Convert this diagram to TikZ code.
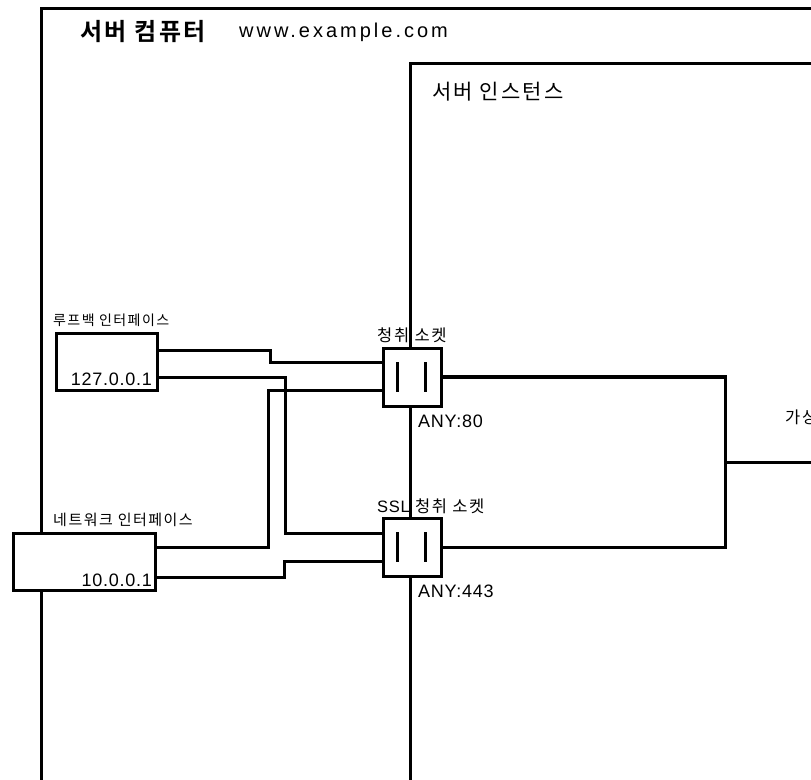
\documentclass[tikz,border=0pt]{standalone}
\usepackage{fontspec}
\setmainfont{Liberation Sans}
\newfontfamily\kr[LetterSpace=10]{Noto Sans CJK KR}
\newfontfamily\krb[LetterSpace=10]{Noto Sans CJK KR Bold}
\newfontfamily\lat[LetterSpace=15]{Liberation Sans}
\newfontfamily\latb[LetterSpace=4]{Liberation Sans}
\begin{document}
\begin{tikzpicture}[x=1pt,y=-1pt,
  wire/.style={line width=3pt, line join=miter},
  frame/.style={line width=3pt},
  ifbox/.style={draw, line width=3pt, fill=white, rectangle, inner sep=0pt},
  sockbox/.style={draw, line width=3pt, fill=white, rectangle, inner sep=0pt, minimum width=58pt, minimum height=58pt},
  lbl/.style={inner sep=0pt, anchor=base west},
]
\useasboundingbox (0,0) rectangle (811,779);
\clip (0,0) rectangle (811,779);
% frames
\draw[frame] (41,785) -- (41,8) -- (820,8);
\draw[frame] (410,785) -- (410,63) -- (820,63);
% boxes
\node[ifbox, minimum width=101pt, minimum height=57pt] (lb) at (106.5,361.5) {};
\node[ifbox, minimum width=142pt, minimum height=57pt] (nb) at (84,561.5) {};
\node[sockbox] (ls) at (412,377) {};
\node[sockbox] (ss) at (412,547) {};
% bars in sockets
\foreach \s in {ls,ss}{
  \draw[line width=3pt] ([xshift=-15pt,yshift=15pt]\s.center) -- ([xshift=-15pt,yshift=-15pt]\s.center);
  \draw[line width=3pt] ([xshift=13pt,yshift=15pt]\s.center) -- ([xshift=13pt,yshift=-15pt]\s.center);
}
% wires
\draw[wire] ([yshift=11.5pt]lb.east) -- (270,350) -- (270,362) -- ([yshift=15pt]ls.west);
\draw[wire] ([yshift=-15.5pt]lb.east) -- (285,377) -- (285,533) -- ([yshift=14pt]ss.west);
\draw[wire] ([yshift=14.5pt]nb.east) -- (268,547) -- (268,390) -- ([yshift=-13pt]ls.west);
\draw[wire] ([yshift=-15.5pt]nb.east) -- (284,577) -- (284,561) -- ([yshift=-14pt]ss.west);
\coordinate (j) at (725,462);
\coordinate (vs) at (815,462);
\coordinate (c1) at (725,377);
\coordinate (c2) at (725,547);
\draw[wire] (c1) -- (c2) -- (ss.east);
\draw[line width=4.5pt] (ls.east) -- ([xshift=1.5pt]c1);
\draw[wire] (j) -- (vs);
% labels
\node[lbl] (t1) at (80,40) {\krb\fontsize{24}{27}\selectfont 서버 컴퓨터};
\node[lbl] (t2) at (239,37) {\lat\fontsize{20}{24}\selectfont www.example.com};
\node[lbl] (t3) at (432,99) {\kr\fontsize{21}{24}\selectfont 서버 인스턴스};
\node[lbl] (t4) at (53,325) {\kr\fontsize{14}{17}\selectfont 루프백 인터페이스};
\node[inner sep=0pt, anchor=base east] (t5) at (152,385) {\latb\fontsize{18}{21}\selectfont 127.0.0.1};
\node[lbl] (t6) at (377,341) {\kr\fontsize{16.5}{20}\selectfont 청취 소켓};
\node[lbl] (t7) at (418,427) {\latb\fontsize{18}{21}\selectfont ANY:80};
\node[lbl] (t8) at (53,525) {\kr\fontsize{15}{18}\selectfont 네트워크 인터페이스};
\node[inner sep=0pt, anchor=base east] (t9) at (152,586) {\latb\fontsize{18}{21}\selectfont 10.0.0.1};
\node[lbl] (t10) at (377,512) {\kr\fontsize{16.5}{20}\selectfont \latb SSL\kr\ 청취 소켓};
\node[lbl] (t11) at (418,597) {\latb\fontsize{18}{21}\selectfont ANY:443};
\node[lbl] (t12) at (785,423) {\kr\fontsize{16.5}{20}\selectfont 가상};
\end{tikzpicture}
\end{document}
